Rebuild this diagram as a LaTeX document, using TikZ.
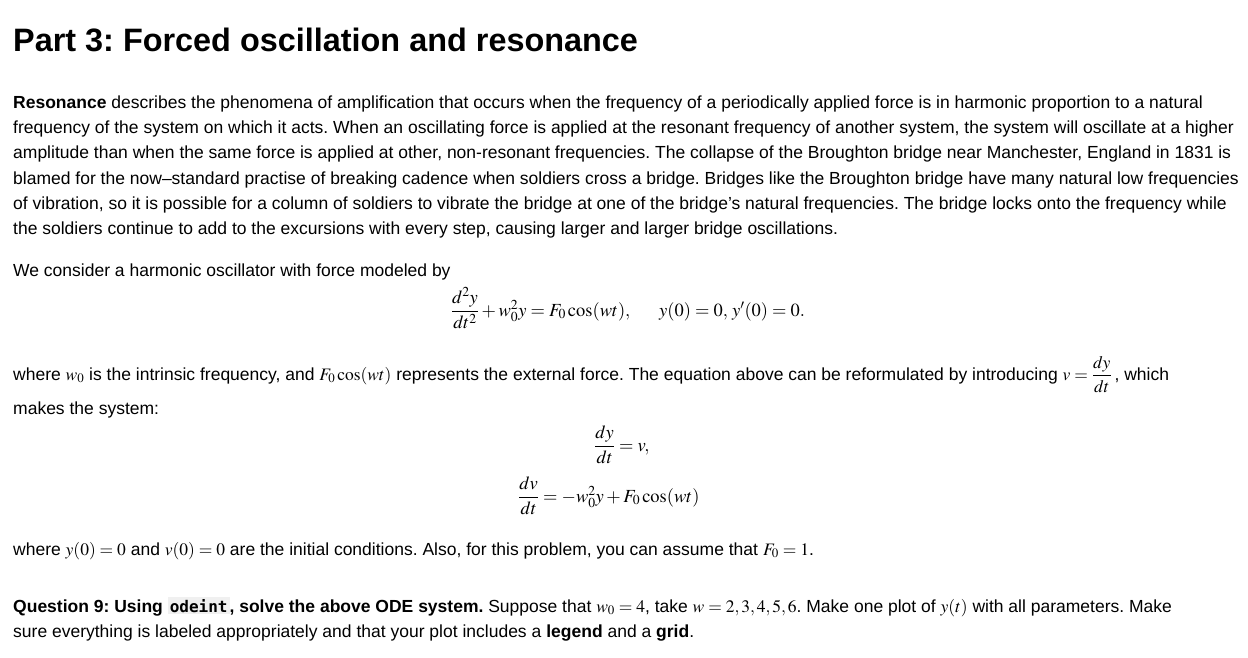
\documentclass[tikz,border=0pt]{standalone}
\usepackage{amsmath}
\usepackage{mathptmx}
\usepackage[no-math]{fontspec}
\setmainfont{Liberation Sans}
\setmonofont{DejaVu Sans Mono}
\frenchspacing
\begin{document}
\begin{tikzpicture}[x=1pt,y=-1pt,
  txt/.style={anchor=base west,inner sep=0pt,font=\fontsize{17.5}{21}\selectfont},
  eq/.style={anchor=base,inner sep=0pt,font=\fontsize{18.5}{21}\selectfont}]
\useasboundingbox[fill=white] (0,0) rectangle (1248,658);
\node[anchor=base west,inner sep=0pt,font=\fontsize{32.4}{36}\selectfont\bfseries] (title) at (13,52) {Part 3: Forced oscillation and resonance};
\node[txt] (p1) at (13,109) {\textbf{Resonance} describes the phenomena of amplification that occurs when the frequency of a periodically applied force is in harmonic proportion to a natural};
\node[txt] (p2) at (13,134) {frequency of the system on which it acts. When an oscillating force is applied at the resonant frequency of another system, the system will oscillate at a higher};
\node[txt] (p3) at (13,159) {amplitude than when the same force is applied at other, non-resonant frequencies. The collapse of the Broughton bridge near Manchester, England in 1831 is};
\node[txt] (p4) at (13,184) {blamed for the now--standard practise of breaking cadence when soldiers cross a bridge. Bridges like the Broughton bridge have many natural low frequencies};
\node[txt] (p5) at (13,209) {of vibration, so it is possible for a column of soldiers to vibrate the bridge at one of the bridge’s natural frequencies. The bridge locks onto the frequency while};
\node[txt] (p6) at (13,234) {the soldiers continue to add to the excursions with every step, causing larger and larger bridge oscillations.};
\node[txt] (c1) at (13,276) {We consider a harmonic oscillator with force modeled by};
\node[eq] (e1) at (628,316) {$\dfrac{d^2y}{dt^2}+w_0^2y=F_0\cos(wt),\quad\;\; y(0)=0,\,y'(0)=0.$};
\node[txt] (w1) at (13,380) {where $w_0$ is the intrinsic frequency, and $F_0\cos(wt)$ represents the external force. The equation above can be reformulated by introducing $v=\dfrac{dy}{dt}$\,, which};
\node[txt] (w2) at (13,414) {makes the system:};
\node[eq,anchor=base west] (e2) at (594,451) {$\dfrac{dy}{dt}=v,$};
\node[eq,anchor=base west] (e3) at (518,502) {$\dfrac{dv}{dt}=-w_0^2y+F_0\cos(wt)$};
\node[txt] (w3) at (13,555) {where $y(0)=0$ and $v(0)=0$ are the initial conditions. Also, for this problem, you can assume that $F_0=1$.};
\node[txt] (q1) at (13,612) {\textbf{Question 9: Using {\setlength{\fboxsep}{2pt}\colorbox{black!6}{\ttfamily\fontsize{16}{18}\selectfont odeint}}, solve the above ODE system.} Suppose that $w_0=4$, take $w=2,3,4,5,6$. Make one plot of $y(t)$ with all parameters. Make};
\node[txt] (q2) at (13,637) {sure everything is labeled appropriately and that your plot includes a \textbf{legend} and a \textbf{grid}.};
\end{tikzpicture}
\end{document}
